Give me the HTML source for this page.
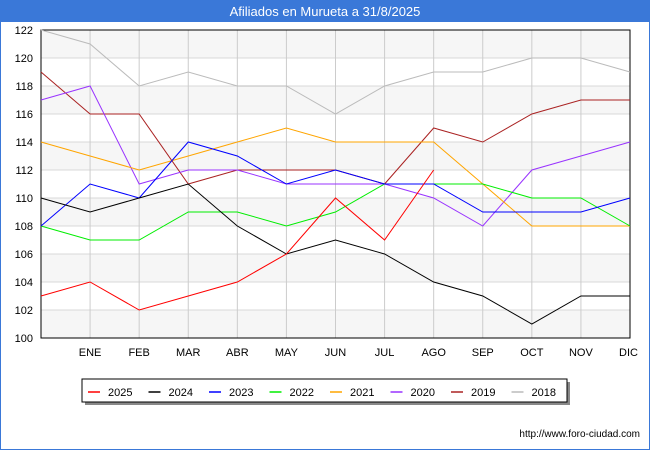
<!DOCTYPE html>
<html><head><meta charset="utf-8"><style>
body{margin:0;background:#fff;font-family:"Liberation Sans",sans-serif}
</style></head><body>
<svg width="650" height="450" xmlns="http://www.w3.org/2000/svg">
<rect x="0.5" y="0.5" width="649" height="449" fill="none" stroke="#3a78d8" stroke-width="1"/>
<rect x="0" y="0" width="650" height="22" fill="#3a78d8"/>
<text x="325" y="16" text-anchor="middle" fill="#fff" font-size="13" font-family="Liberation Sans">Afiliados en Murueta a 31/8/2025</text>
<g id="plot"></g>
<g id="legend"></g>
<text x="640" y="437" text-anchor="end" font-size="10" fill="#000" font-family="Liberation Sans">http://www.foro-ciudad.com</text>
</svg>
<script>
const months=["","ENE","FEB","MAR","ABR","MAY","JUN","JUL","AGO","SEP","OCT","NOV","DIC"];
const yTicks=[100,102,104,106,108,110,112,114,116,118,120,122];
const seriesNames=["2025","2024","2023","2022","2021","2020","2019","2018"];
const seriesColors=["#ff0000","#000000","#0000ff","#00ee00","#ffa500","#9933ff","#aa2222","#bbbbbb"];
const s2025=[103,104,102,103,104,106,110,107,112];
const s2024=[110,109,110,111,108,106,107,106,104,103,101,103,103];
const s2023=[108,111,110,114,113,111,112,111,111,109,109,109,110];
const s2022=[108,107,107,109,109,108,109,111,111,111,110,110,108];
const s2021=[114,113,112,113,114,115,114,114,114,111,108,108,108];
const s2020=[117,118,111,112,112,111,111,111,110,108,112,113,114];
const s2019=[119,116,116,111,112,112,112,111,115,114,116,117,117];
const s2018=[122,121,118,119,118,118,116,118,119,119,120,120,119];
const allSeries=[s2025,s2024,s2023,s2022,s2021,s2020,s2019,s2018];
const NS="http://www.w3.org/2000/svg";
const X0=41,X1=630,Y0=338,Y1=30;
const xs=i=>X0+(X1-X0)*i/12;
const ys=v=>Y0-(v-100)*(Y0-Y1)/22;
const plot=document.getElementById('plot');
function mk(t,a,p){const e=document.createElementNS(NS,t);for(const k in a)e.setAttribute(k,a[k]);(p||plot).appendChild(e);return e;}
for(let i=0;i<yTicks.length-1;i++){
 if(i%2==0){const r=mk('rect',{x:X0,y:ys(yTicks[i+1]),width:X1-X0,height:ys(yTicks[i])-ys(yTicks[i+1]),fill:'#f6f6f6'});
 
 }
}
yTicks.forEach(v=>{
 const l=mk('line',{x1:X0,x2:X1,y1:ys(v),y2:ys(v),stroke:'#d8d8d8','stroke-width':1});
 
 
 const t=mk('text',{x:X0-8,y:ys(v)+4,'text-anchor':'end','font-size':11,fill:'#000','font-family':'Liberation Sans'});
 t.textContent=v;
 
 
});
months.forEach((m,i)=>{
 if(i>0){const l=mk('line',{x1:xs(i),x2:xs(i),y1:Y1,y2:Y0,stroke:'#cccccc','stroke-width':1});
 
 }
 const t=mk('text',{x:xs(i),y:356,'text-anchor':i==12?'end':'middle','font-size':11,fill:'#000','font-family':'Liberation Sans'});
 if(i==12)t.setAttribute('x',xs(i)+8);
 t.textContent=m;
 
 
});
const ax=mk('rect',{x:X0,y:Y1,width:X1-X0,height:Y0-Y1,fill:'none',stroke:'#000','stroke-width':1});


for(let k=allSeries.length-1;k>=0;k--){
 const pts=allSeries[k].map((v,i)=>xs(i)+','+ys(v)).join(' ');
 const p=mk('polyline',{points:pts,fill:'none',stroke:seriesColors[k],'stroke-width':1});
 
 
}
const lg=document.getElementById('legend');
const sh=mk('rect',{x:85,y:382,width:485,height:23,fill:'#888'},lg);


const box=mk('rect',{x:82,y:379,width:485,height:23,fill:'#fff',stroke:'#000','stroke-width':1},lg);


seriesNames.forEach((n,k)=>{
 const x=88+k*60.5;
 const l=mk('line',{x1:x,x2:x+12,y1:392,y2:392,stroke:seriesColors[k],'stroke-width':1.5},lg);
 
 
 const t=mk('text',{x:x+20,y:396,'font-size':11,fill:'#000','font-family':'Liberation Sans'},lg);
 t.textContent=n;
 
 
});
</script>
</body></html>
